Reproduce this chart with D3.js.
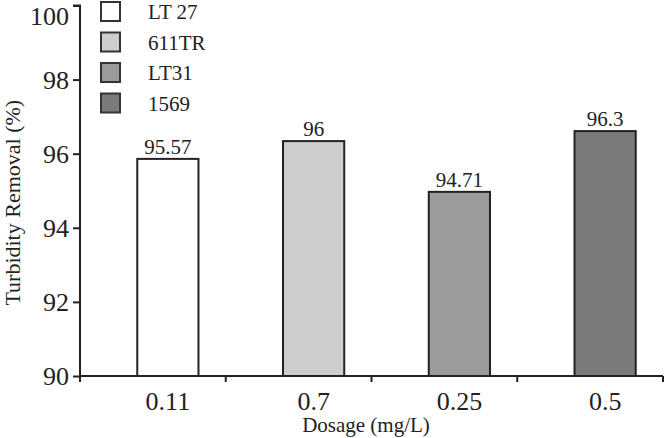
<!DOCTYPE html>
<html>
<head>
<meta charset="utf-8">
<script src="https://cdn.jsdelivr.net/npm/d3@7"></script>
<style>
  body { margin: 0; background: #fff; }
  svg { display: block; font-family: "Liberation Serif", "Times New Roman", serif; }
</style>
</head>
<body>
<svg id="chart" width="666" height="438"></svg>
<script>
// chart data
const dosages = ["0.11", "0.7", "0.25", "0.5"];
const products = ["LT 27", "611TR", "LT31", "1569"];
const barHeights = [95.86, 96.34, 94.97, 96.61];   // drawn height of each bar
const barLabels = ["95.57", "96", "94.71", "96.3"]; // printed value above each bar
const yTicks = [90, 92, 94, 96, 98, 100];
const fills = ["#ffffff", "#cdcdcd", "#9b9b9b", "#7a7a7a"];

const svg = d3.select("#chart");
const ink = "#222";

// plot frame
const plotLeft = 80, plotRight = 663, plotTop = 5.5, plotBottom = 376;
const barShift = 15; // bars sit a little right of their tick bands

const x = d3.scaleBand().domain(dosages).range([plotLeft, plotRight]);
const y = d3.scaleLinear().domain([90, 100]).range([plotBottom, plotTop]);
const color = d3.scaleOrdinal().domain(products).range(fills);

// bars
const barW = x.step() * 0.42;
const bars = svg.append("g").attr("class", "bars");
bars.selectAll("rect")
  .data(dosages)
  .enter().append("rect")
    .attr("x", (d) => x(d) + x.bandwidth() / 2 + barShift - barW / 2)
    .attr("y", (d, i) => y(barHeights[i]))
    .attr("width", barW)
    .attr("height", (d, i) => y(90) - y(barHeights[i]))
    .attr("fill", (d, i) => color(products[i]))
    .attr("stroke", ink)
    .attr("stroke-width", 2);

bars.selectAll("text")
  .data(dosages)
  .enter().append("text")
    .attr("x", (d) => x(d) + x.bandwidth() / 2 + barShift)
    .attr("y", (d, i) => y(barHeights[i]) - 5)
    .attr("text-anchor", "middle")
    .attr("font-size", 21)
    .attr("fill", ink)
    .text((d, i) => barLabels[i]);

// y axis
const yAxis = svg.append("g")
  .attr("transform", `translate(${plotLeft},0)`)
  .call(d3.axisLeft(y).tickValues(yTicks).tickSize(7).tickPadding(4).tickFormat(d3.format("d")));
yAxis.select(".domain").attr("stroke", ink).attr("stroke-width", 2).attr("d", `M-7,${plotTop}H0V${plotBottom}`);
yAxis.selectAll(".tick line").attr("stroke", ink).attr("stroke-width", 2);
yAxis.selectAll(".tick text")
  .attr("font-size", 26)
  .attr("font-family", "Liberation Serif")
  .attr("fill", ink)
  // the top label is pushed down so it stays inside the picture
  .attr("dy", (d) => d === 100 ? "0.72em" : "0.34em");

// x axis: line with ticks at the band edges, labels under the bars
const xAxis = svg.append("g").attr("transform", `translate(0,${plotBottom})`);
xAxis.append("line")
  .attr("x1", plotLeft).attr("x2", plotRight)
  .attr("stroke", ink).attr("stroke-width", 2);
const edges = dosages.map((d) => x(d)).concat([plotRight]);
xAxis.selectAll(".edge")
  .data(edges)
  .enter().append("line")
    .attr("class", "edge")
    .attr("x1", (d) => d).attr("x2", (d) => d)
    .attr("y1", 0).attr("y2", 6)
    .attr("stroke", ink).attr("stroke-width", 2);
xAxis.selectAll(".lbl")
  .data(dosages)
  .enter().append("text")
    .attr("class", "lbl")
    .attr("x", (d) => x(d) + x.bandwidth() / 2 + barShift)
    .attr("y", 34)
    .attr("text-anchor", "middle")
    .attr("font-size", 26)
    .attr("fill", ink)
    .text((d) => d);

// axis titles
svg.append("text")
  .attr("transform", `translate(20,${(plotTop + plotBottom) / 2 + 12}) rotate(-90)`)
  .attr("text-anchor", "middle")
  .attr("font-size", 22)
  .attr("fill", ink)
  .text("Turbidity Removal (%)");

svg.append("text")
  .attr("x", 366)
  .attr("y", 432)
  .attr("text-anchor", "middle")
  .attr("font-size", 21)
  .attr("fill", ink)
  .text("Dosage (mg/L)");

// legend
const legend = svg.append("g").attr("transform", "translate(101,2)");
const rows = legend.selectAll("g")
  .data(products)
  .enter().append("g")
    .attr("transform", (d, i) => `translate(0,${i * 30.5})`);
rows.append("rect")
  .attr("width", 19).attr("height", 19)
  .attr("fill", (d) => color(d))
  .attr("stroke", "#333")
  .attr("stroke-width", 2);
rows.append("text")
  .attr("x", 47)
  .attr("y", 17)
  .attr("font-size", 21)
  .attr("fill", ink)
  .text((d) => d);
</script>
</body>
</html>
